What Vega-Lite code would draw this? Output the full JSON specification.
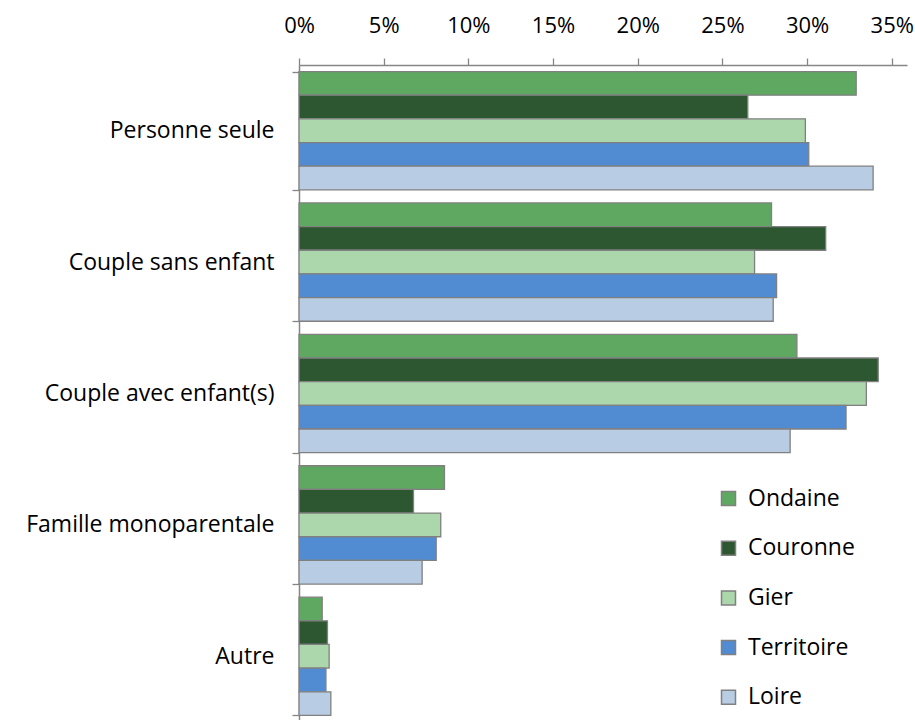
{
  "$schema": "https://vega.github.io/schema/vega-lite/v6.json",
  "autosize": {"type": "none"},
  "padding": {"left": 299, "top": 65, "right": 8, "bottom": 0},
  "width": 608,
  "height": 657,
  "background": "white",
  "config": {
    "font": "Open Sans",
    "view": {"stroke": null},
    "legend": {"symbolStrokeColor": "#808080", "symbolStrokeWidth": 1.5, "padding": 0}
  },
  "data": {
    "values": [
      {"cat": "Personne seule", "zone": "Ondaine", "val": 0.329},
      {"cat": "Personne seule", "zone": "Couronne", "val": 0.265},
      {"cat": "Personne seule", "zone": "Gier", "val": 0.299},
      {"cat": "Personne seule", "zone": "Territoire", "val": 0.301},
      {"cat": "Personne seule", "zone": "Loire", "val": 0.339},
      {"cat": "Couple sans enfant", "zone": "Ondaine", "val": 0.279},
      {"cat": "Couple sans enfant", "zone": "Couronne", "val": 0.311},
      {"cat": "Couple sans enfant", "zone": "Gier", "val": 0.269},
      {"cat": "Couple sans enfant", "zone": "Territoire", "val": 0.282},
      {"cat": "Couple sans enfant", "zone": "Loire", "val": 0.280},
      {"cat": "Couple avec enfant(s)", "zone": "Ondaine", "val": 0.294},
      {"cat": "Couple avec enfant(s)", "zone": "Couronne", "val": 0.342},
      {"cat": "Couple avec enfant(s)", "zone": "Gier", "val": 0.335},
      {"cat": "Couple avec enfant(s)", "zone": "Territoire", "val": 0.323},
      {"cat": "Couple avec enfant(s)", "zone": "Loire", "val": 0.290},
      {"cat": "Famille monoparentale", "zone": "Ondaine", "val": 0.0859},
      {"cat": "Famille monoparentale", "zone": "Couronne", "val": 0.0676},
      {"cat": "Famille monoparentale", "zone": "Gier", "val": 0.0837},
      {"cat": "Famille monoparentale", "zone": "Territoire", "val": 0.0810},
      {"cat": "Famille monoparentale", "zone": "Loire", "val": 0.0727},
      {"cat": "Autre", "zone": "Ondaine", "val": 0.0137},
      {"cat": "Autre", "zone": "Couronne", "val": 0.0168},
      {"cat": "Autre", "zone": "Gier", "val": 0.0178},
      {"cat": "Autre", "zone": "Territoire", "val": 0.0159},
      {"cat": "Autre", "zone": "Loire", "val": 0.0188}
    ]
  },
  "mark": {"type": "bar", "stroke": "#808080", "strokeWidth": 1.3},
  "encoding": {
    "x": {
      "field": "val",
      "type": "quantitative",
      "scale": {"domain": [0, 0.359], "nice": false},
      "axis": {
        "orient": "top",
        "title": null,
        "format": ".0%",
        "values": [0, 0.05, 0.1, 0.15, 0.2, 0.25, 0.3, 0.35],
        "grid": false,
        "domainColor": "#868686",
        "domainWidth": 1.5,
        "tickColor": "#868686",
        "tickWidth": 1.3,
        "tickSize": 7,
        "labelFontSize": 22,
        "labelColor": "#000000",
        "labelPadding": 21,
        "labelFlush": false,
        "labelOverlap": false,
        "labelBound": false
      }
    },
    "y": {
      "field": "cat",
      "type": "nominal",
      "sort": ["Personne seule", "Couple sans enfant", "Couple avec enfant(s)", "Famille monoparentale", "Autre"],
      "scale": {"paddingInner": 0.1, "paddingOuter": 0.05},
      "axis": {
        "title": null,
        "domainColor": "#868686",
        "domainWidth": 1.5,
        "tickColor": "#868686",
        "tickWidth": 1.3,
        "tickSize": 7,
        "tickBand": "extent",
        "labelFontSize": 23,
        "labelColor": "#000000",
        "labelPadding": 18,
        "labelLimit": 300
      }
    },
    "yOffset": {
      "field": "zone",
      "type": "nominal",
      "sort": ["Ondaine", "Couronne", "Gier", "Territoire", "Loire"],
      "scale": {"paddingInner": 0, "paddingOuter": 0}
    },
    "color": {
      "field": "zone",
      "type": "nominal",
      "sort": ["Ondaine", "Couronne", "Gier", "Territoire", "Loire"],
      "scale": {
        "domain": ["Ondaine", "Couronne", "Gier", "Territoire", "Loire"],
        "range": ["#5fa862", "#2d5730", "#acd6ab", "#518cd2", "#b8cce4"]
      },
      "legend": {
        "title": null,
        "orient": "none",
        "legendX": 418,
        "legendY": 422,
        "symbolType": "square",
        "symbolSize": 196,
        "symbolOpacity": 1,
        "labelFontSize": 23,
        "labelColor": "#000000",
        "labelOffset": 8,
        "rowPadding": 25.7
      }
    }
  }
}
